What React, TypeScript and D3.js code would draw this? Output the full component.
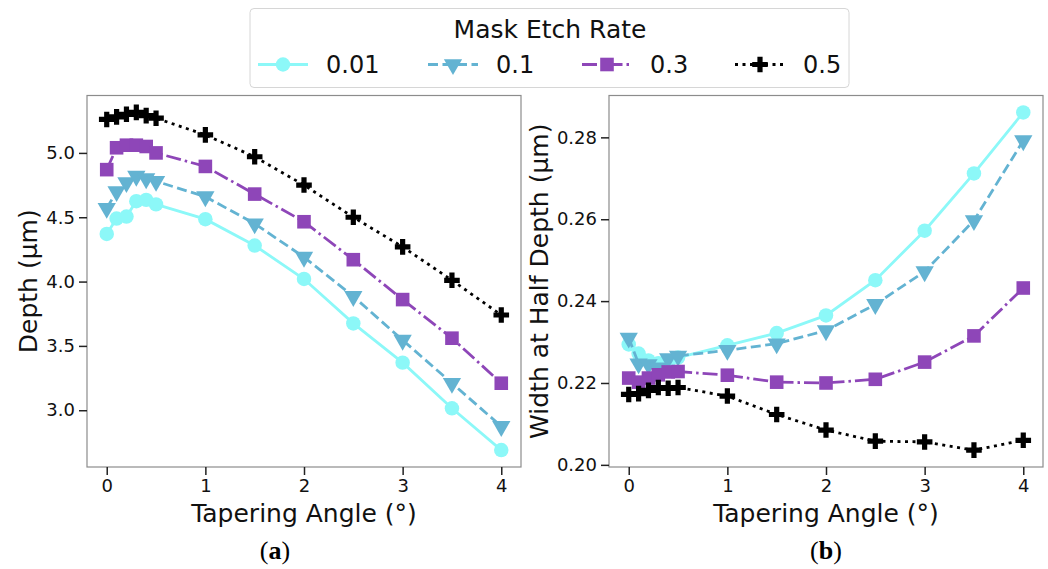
import React, { useEffect, useRef } from 'react';
import * as d3 from 'd3';

const W = 1048;
const H = 569;

// tapering angle (deg) sampled for every series
const angles = [0, 0.1, 0.2, 0.3, 0.4, 0.5, 1, 1.5, 2, 2.5, 3, 3.5, 4];
const rates = ['0.01', '0.1', '0.3', '0.5'];

// panel (a): depth in um
const depth001 = [4.37, 4.49, 4.505, 4.625, 4.635, 4.6, 4.485, 4.28, 4.02, 3.675, 3.37, 3.015, 2.69];
const depth01 = [4.57, 4.7, 4.77, 4.82, 4.8, 4.78, 4.66, 4.45, 4.19, 3.885, 3.545, 3.21, 2.875];
const depth03 = [4.87, 5.04, 5.06, 5.06, 5.05, 5.0, 4.895, 4.68, 4.465, 4.17, 3.86, 3.56, 3.21];
const depth05 = [5.26, 5.28, 5.3, 5.315, 5.29, 5.27, 5.14, 4.97, 4.75, 4.5, 4.27, 4.01, 3.74];

// panel (b): width at half depth in um
const width001 = [0.2294, 0.2272, 0.2255, 0.2248, 0.225, 0.2262, 0.2292, 0.2322, 0.2365, 0.2451, 0.2572, 0.2712, 0.2861];
const width01 = [0.231, 0.2247, 0.2245, 0.2237, 0.226, 0.2266, 0.228, 0.2296, 0.2328, 0.2392, 0.2472, 0.2597, 0.2792];
const width03 = [0.2212, 0.2202, 0.2212, 0.222, 0.2227, 0.2228, 0.2219, 0.2202, 0.22, 0.2209, 0.2251, 0.2315, 0.2432];
const width05 = [0.2172, 0.2174, 0.2182, 0.2189, 0.2187, 0.2189, 0.2168, 0.2123, 0.2085, 0.2058, 0.2056, 0.2036, 0.206];

const xTicks = [0, 1, 2, 3, 4];
const depthTicks = [3.0, 3.5, 4.0, 4.5, 5.0];
const widthTicks = [0.2, 0.22, 0.24, 0.26, 0.28];

const seriesStyle = [
  { color: '#8cf8f8', dash: null, symbol: d3.symbolCircle, size: 165, rot: 0 },
  { color: '#63b3d2', dash: '10,4.5', symbol: d3.symbolTriangle, size: 145, rot: 180 },
  { color: '#8e46b8', dash: '15,4,2.5,4', symbol: d3.symbolSquare, size: 185, rot: 0 },
  { color: '#000000', dash: '3,4.5', symbol: d3.symbolCross, size: 135, rot: 0 },
];

const FONT = 'DejaVu Sans, sans-serif';

function drawPanel(svg, opts) {
  const { left, right, top, bottom, series, yTicks, yFmt, ylabel, ylabelX, tag, tagX } = opts;
  const x = d3.scaleLinear([-0.2, 4.2], [left, right]);
  const all = series.flat();
  const [lo, hi] = d3.extent(all);
  const pad = (hi - lo) * 0.05;
  const y = d3.scaleLinear([lo - pad, hi + pad], [bottom, top]);

  const g = svg.append('g');

  // frame
  g.append('rect')
    .attr('x', left).attr('y', top)
    .attr('width', right - left).attr('height', bottom - top)
    .attr('fill', 'none').attr('stroke', '#8c8c8c').attr('stroke-width', 1.2);

  const xAxis = g.append('g')
    .attr('transform', `translate(0,${bottom})`)
    .call(d3.axisBottom(x).tickValues(xTicks).tickFormat(d3.format('d')).tickSize(8).tickPadding(4).tickSizeOuter(0));
  const yAxis = g.append('g')
    .attr('transform', `translate(${left},0)`)
    .call(d3.axisLeft(y).tickValues(yTicks).tickFormat(d3.format(yFmt)).tickSize(8).tickPadding(4).tickSizeOuter(0));
  [xAxis, yAxis].forEach(a => {
    a.select('.domain').remove();
    a.attr('font-family', FONT).attr('font-size', 18);
    a.selectAll('line').attr('stroke', '#222').attr('stroke-width', 1.5);
    a.selectAll('text').attr('fill', '#111');
  });

  const line = d3.line().x(d => x(d[0])).y(d => y(d[1]));
  series.forEach((vals, i) => {
    const st = seriesStyle[i];
    const pts = angles.map((a, j) => [a, vals[j]]);
    g.append('path')
      .attr('d', line(pts))
      .attr('fill', 'none')
      .attr('stroke', st.color)
      .attr('stroke-width', 2.8)
      .attr('stroke-dasharray', st.dash);
    g.append('g').selectAll('path')
      .data(pts)
      .join('path')
      .attr('d', d3.symbol(st.symbol, st.size)())
      .attr('transform', d => `translate(${x(d[0])},${y(d[1])}) rotate(${st.rot})`)
      .attr('fill', st.color);
  });

  // axis titles
  svg.append('text')
    .attr('x', (left + right) / 2).attr('y', 522)
    .attr('text-anchor', 'middle')
    .attr('font-family', FONT).attr('font-size', 25).attr('fill', '#111')
    .text('Tapering Angle (°)');
  svg.append('text')
    .attr('transform', `translate(${ylabelX},${(top + bottom) / 2}) rotate(-90)`)
    .attr('text-anchor', 'middle')
    .attr('font-family', FONT).attr('font-size', 25).attr('fill', '#111')
    .text(ylabel);

  const t = svg.append('text')
    .attr('x', tagX).attr('y', 559)
    .attr('text-anchor', 'middle')
    .attr('font-family', 'Liberation Serif, DejaVu Serif, serif').attr('font-size', 26).attr('fill', '#000');
  t.append('tspan').text('(');
  t.append('tspan').attr('font-weight', 'bold').text(tag);
  t.append('tspan').text(')');
}

function drawLegend(svg) {
  const g = svg.append('g');
  g.append('rect')
    .attr('x', 250).attr('y', 8.5).attr('width', 599).attr('height', 79)
    .attr('rx', 4).attr('fill', '#fff').attr('stroke', '#d6d6d6').attr('stroke-width', 1);
  g.append('text')
    .attr('x', 550).attr('y', 37.5).attr('text-anchor', 'middle')
    .attr('font-family', FONT).attr('font-size', 25).attr('fill', '#111')
    .text('Mask Etch Rate');

  const starts = [258, 428, 582, 735];
  rates.forEach((r, i) => {
    const st = seriesStyle[i];
    const x0 = starts[i];
    const cy = 64.5;
    g.append('line')
      .attr('x1', x0).attr('x2', x0 + 50).attr('y1', cy).attr('y2', cy)
      .attr('stroke', st.color).attr('stroke-width', 2.8)
      .attr('stroke-dasharray', st.dash);
    g.append('path')
      .attr('d', d3.symbol(st.symbol, st.size)())
      .attr('transform', `translate(${x0 + 25},${cy}) rotate(${st.rot})`)
      .attr('fill', st.color);
    g.append('text')
      .attr('x', x0 + 68).attr('y', cy + 8.5)
      .attr('font-family', FONT).attr('font-size', 24).attr('fill', '#111')
      .text(r);
  });
}

const App = () => {
  const ref = useRef(null);

  useEffect(() => {
    const svg = d3.select(ref.current);
    svg.selectAll('*').remove();
    svg.append('rect').attr('width', W).attr('height', H).attr('fill', '#fff');

    drawPanel(svg, {
      left: 87, right: 521, top: 95.5, bottom: 467,
      series: [depth001, depth01, depth03, depth05],
      yTicks: depthTicks, yFmt: '.1f', ylabel: 'Depth (μm)', ylabelX: 37, tag: 'a', tagX: 275,
    });
    drawPanel(svg, {
      left: 609, right: 1043, top: 95.5, bottom: 467,
      series: [width001, width01, width03, width05],
      yTicks: widthTicks, yFmt: '.2f', ylabel: 'Width at Half Depth (μm)', ylabelX: 548, tag: 'b', tagX: 826,
    });
    drawLegend(svg);
  }, []);

  return (
    <svg
      ref={ref}
      width={W}
      height={H}
      style={{ position: 'absolute', left: 0, top: 0 }}
    />
  );
};

export default App;
